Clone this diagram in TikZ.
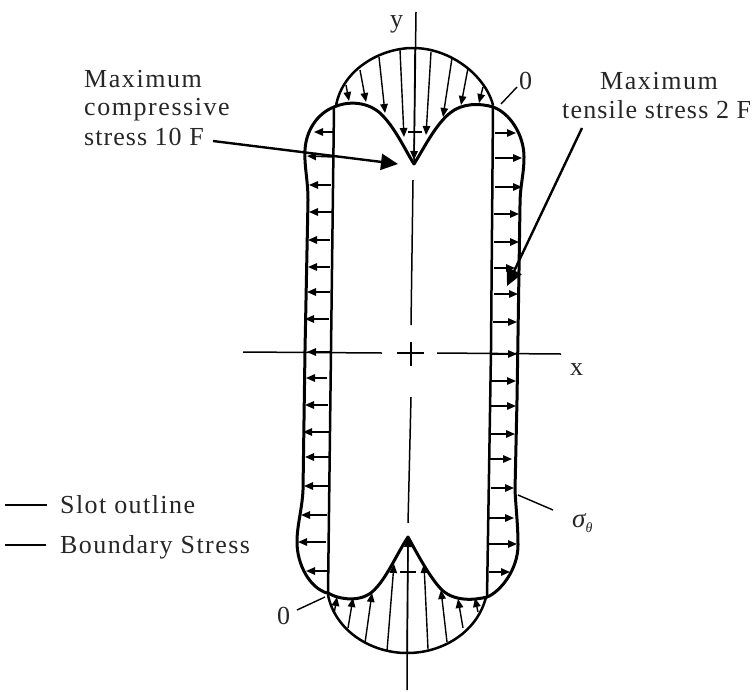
\documentclass[tikz,border=0pt]{standalone}
\usepackage{fontspec}
\setmainfont{Liberation Serif}
\usetikzlibrary{arrows.meta}
\newcommand{\lbl}[2]{\fontsize{26}{29}\selectfont\addfontfeatures{LetterSpace=#1}#2}
\tikzset{
  lab/.style={inner sep=0pt,anchor=base west,text=black!85},
  bstress/.style={line width=3pt,line cap=round,line join=round},
  wall/.style={line width=2.5pt,line cap=round,line join=round},
  stressarr/.style={line width=1.4pt,-{Stealth[inset=0pt,length=9pt,width=7.5pt]}},
  axis/.style={line width=1.5pt},
  thin leader/.style={line width=1.4pt},
  big leader/.style={line width=2.4pt,-{Triangle[length=17pt,width=16pt]}},
}
\begin{document}
\begin{tikzpicture}[x=1pt,y=-1pt]
\useasboundingbox (0,0) rectangle (754,691);
% axes
\coordinate (ytop) at (416,12); \coordinate (yapex) at (414,163);
\draw[axis] (ytop) -- (yapex);
\draw[axis] (413,180) -- (411,325);
\draw[axis] (411,342) -- (411,366);
\draw[axis] (397,353) -- (424,353);
\draw[axis] (411,397) -- (408,523);
\draw[axis] (407,690) -- (408,545);
\draw[axis] (243,352) -- (382,353);
\draw[axis] (437,353) -- (561,354);
\draw[axis] (408,132) -- (422,132);
\draw[axis] (400,572) -- (416,572);
% slot walls
\draw[wall] (334,107) -- (331,350) -- (328,593);
\draw[wall] (493,107) -- (491,350) -- (487,597);
% slot top/bottom outline
\draw[bstress] (334,107) .. controls (345,102) and (365,100) .. (380,113) .. controls (395,127) and (405,150) .. (414,164) .. controls (423,150) and (435,125) .. (450,113) .. controls (462,103) and (480,103) .. (493,107);
\draw[bstress] (328,593) .. controls (340,600) and (360,602) .. (372,592) .. controls (386,580) and (396,555) .. (408,537) .. controls (418,555) and (430,578) .. (442,590) .. controls (455,602) and (475,600) .. (487,597);
% boundary stress, arcs
\draw[wall] (336,106) .. controls (342,70) and (380,48) .. (413,48) .. controls (450,48) and (485,75) .. (493,105);
\draw[wall] (328,595) .. controls (335,630) and (370,653) .. (407,653) .. controls (445,653) and (478,630) .. (486,597);
% boundary stress, sides
\draw[bstress] (334,107) .. controls (318,113) and (306,130) .. (305,150) .. controls (304,165) and (308,180) .. (308,200) -- (305,350) -- (303,490) .. controls (302,510) and (297,525) .. (297,542) .. controls (297,565) and (310,588) .. (327,593);
\draw[bstress] (493,107) .. controls (510,113) and (524,135) .. (524,157) .. controls (524,175) and (520,185) .. (520,205) -- (517,400) -- (515,490) .. controls (516,510) and (518,525) .. (518,545) .. controls (518,570) and (500,592) .. (487,597);
% top radial arrows
\foreach \a/\b/\c/\d in {346/85/349/101, 360/70/366/102, 379/57/385/113, 400/50/404/137, 415/48/414/160, 431/52/426/135, 452/58/443/117, 468/68/461/105, 483/87/479/103}
  \draw[stressarr] (\a,\b) -- (\c,\d);
% bottom radial arrows
\foreach \a/\b/\c/\d in {334/614/337/597, 348/628/353/598, 365/643/372/593, 387/651/394/564, 407/652/408/538, 428/649/424/564, 447/642/441/590, 463/628/458/599, 478/612/475/598}
  \draw[stressarr] (\a,\b) -- (\c,\d);
% left side arrows
\foreach \a/\b/\c/\d in {333/132/314/132, 333/157/307/156, 331/185/309/185, 332/212/309/212, 330/240/308/240, 330/267/308/267, 330/292/307/292, 329/319/305/319, 331/352/307/352, 327/378/306/378, 328/405/305/405, 329/432/303/432, 329/457/305/457, 328/486/304/486, 327/515/301/515, 326/542/298/542, 327/571/306/571}
  \draw[stressarr] (\a,\b) -- (\c,\d);
% right side arrows
\foreach \a/\b/\c/\d in {495/133/516/133, 495/158/522/158, 495/187/522/187, 494/214/519/214, 494/242/519/242, 494/268/515/268, 494/294/518/294, 493/322/517/322, 491/354/517/354, 491/381/516/381, 491/406/516/406, 491/434/515/434, 489/459/512/459, 491/488/514/488, 489/518/514/518, 489/544/517/544, 489/572/510/572}
  \draw[stressarr] (\a,\b) -- (\c,\d);
% text
\node[lab] (m1) at (84,87) {\lbl{6}{Maximum}};
\node[lab] (m2) at (84,115) {\lbl{6}{compressive}};
\node[lab] (m3) at (84,145) {\lbl{4}{stress 10 F}};
\node[lab] (t1) at (600,89) {\lbl{6}{Maximum}};
\node[lab] (t2) at (562,118) {\lbl{4.5}{tensile stress 2 F}};
\node[lab] (l1) at (60,513) {\lbl{5.5}{Slot outline}};
\node[lab] (l2) at (60,553) {\lbl{5.5}{Boundary Stress}};
\node[lab] (ylab) at (390,27) {\lbl{0}{y}};
\node[lab] (xlab) at (570,375) {\lbl{0}{x}};
\node[lab] (z1) at (519,89) {\lbl{0}{0}};
\node[lab] (z2) at (277,624) {\lbl{0}{0}};
\node[lab] (sig) at (572,527) {\fontsize{27}{27}\selectfont\itshape σ\raisebox{-5pt}{\fontsize{14}{14}\selectfont θ}};
% leaders
\coordinate (c1) at (213,141); \coordinate (c2) at (398,164);
\draw[big leader] (c1) -- (c2);
\coordinate (d1) at (582,128); \coordinate (d2) at (507,286);
\draw[big leader] (d1) -- (d2);
\coordinate (e1) at (501,104); \coordinate (e2) at (517,87);
\draw[thin leader] (e1) -- (e2);
\coordinate (f1) at (325,597); \coordinate (f2) at (297,610);
\draw[thin leader] (f1) -- (f2);
\coordinate (g1) at (518,495); \coordinate (g2) at (553,510);
\draw[thin leader] (g1) -- (g2);
% legend
\coordinate (a1) at (5,505); \coordinate (a2) at (47,505);
\draw[line width=1.6pt] (a1) -- (a2);
\coordinate (b1) at (5,545); \coordinate (b2) at (46,545);
\draw[line width=2.4pt] (b1) -- (b2);
\end{tikzpicture}
\end{document}
